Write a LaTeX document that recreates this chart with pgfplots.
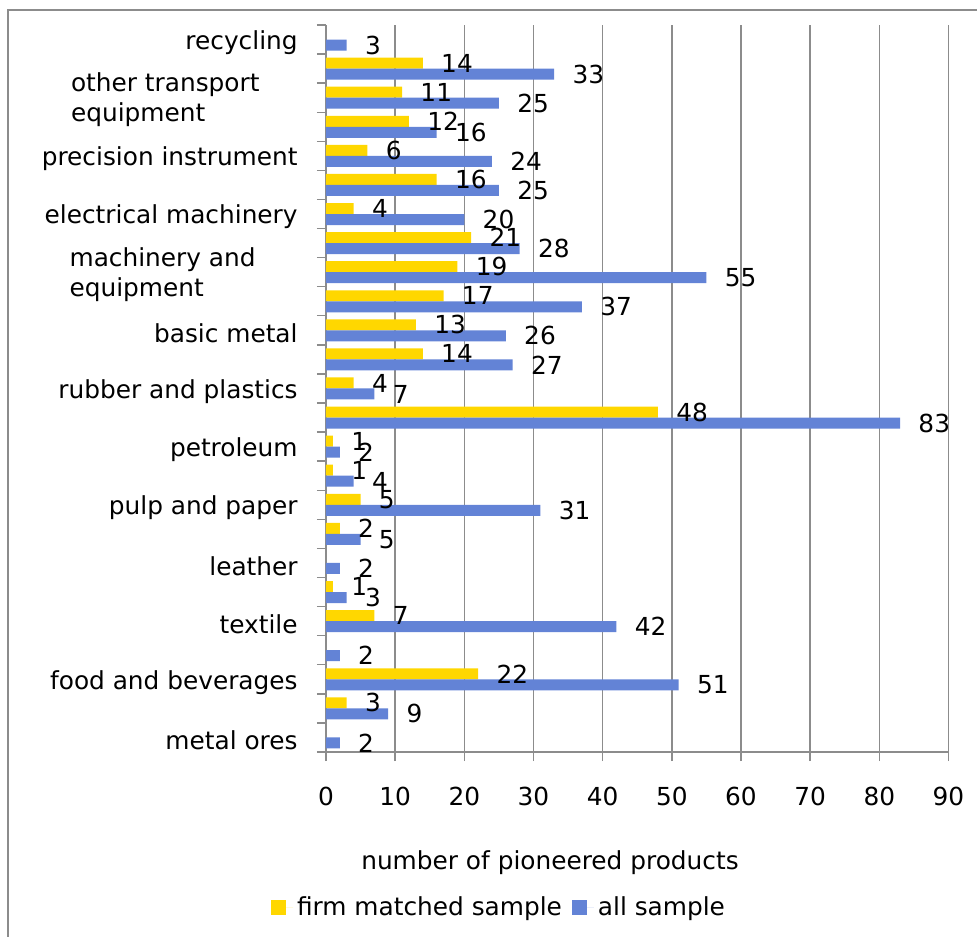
\documentclass[border=0pt]{standalone}
\usepackage{fontspec}
\setmainfont{DejaVu Sans}
\usepackage{pgfplots}
\pgfplotsset{compat=1.18}
\definecolor{ybar}{RGB}{255,215,0}
\definecolor{bbar}{RGB}{99,131,214}
\definecolor{gridc}{RGB}{140,140,140}
\begin{document}
\fontsize{12.4}{15}\selectfont
\begin{tikzpicture}
\begin{axis}[
  at={(0,0)}, anchor=south west,
  scale only axis, width=311.25pt, height=363.5pt,
  xmin=0, xmax=90, ymin=-0.5, ymax=24.5,
  xtick={0,10,...,90},
  ytick={-0.5,0.5,...,24.5},
  y tick label as interval,
  yticklabels={metal ores,,food and beverages,,textile,,leather,,pulp and paper,,petroleum,,rubber and plastics,,basic metal,,{\begin{tabular}{@{}l@{}}machinery and\\equipment\end{tabular}\hspace*{21pt}},,electrical machinery,,precision instrument,,{\begin{tabular}{@{}l@{}}other transport\\equipment\end{tabular}\hspace*{19pt}},,recycling},
  axis x line*=bottom, axis y line*=left,
  axis line style={gridc, line width=0.7pt, -},
  tick style={gridc, line width=0.7pt},
  tick align=outside, major tick length=4.5pt,
  xmajorgrids, grid style={gridc, line width=0.7pt},
  /pgf/number format/assume math mode=true,
  ticklabel style={font=\fontsize{12.4}{15}\selectfont},
  xticklabel style={inner sep=0pt, yshift=-13pt},
  yticklabel style={inner sep=0pt, xshift=-9.5pt, yshift=-1.5pt},
  xlabel={number of pioneered products},
  xlabel style={at={(axis description cs:0.3598,-0.1525)}, anchor=center, font=\fontsize{12.4}{15}\selectfont},
  xbar, bar width=5.5pt,
  nodes near coords,
  every node near coord/.append style={font=\fontsize{12.4}{15}\selectfont, inner sep=0pt, xshift=9pt, black},
  legend columns=2,
  legend style={at={(axis description cs:0.2795,-0.2145)}, anchor=center, draw=none, fill=none,
    font=\fontsize{12.4}{15}\selectfont,
    /tikz/every even column/.append style={column sep=3pt}},
  legend image code/.code={\fill[#1] (0pt,-3.75pt) rectangle (7.5pt,3.75pt); \path (0pt,0pt) -- (11pt,0pt);},
]
\addplot[fill=ybar, draw=none, bar shift=2.75pt] coordinates {
(3,1) (22,2) (7,4) (1,5) (2,7) (5,8) (1,9) (1,10) (48,11) (4,12) (14,13) (13,14) (17,15) (19,16) (21,17) (4,18) (16,19) (6,20) (12,21) (11,22) (14,23)};
\addlegendentry{firm matched sample}
\addplot[fill=bbar, draw=none, bar shift=-2.75pt] coordinates {
(2,0) (9,1) (51,2) (2,3) (42,4) (3,5) (2,6) (5,7) (31,8) (4,9) (2,10) (83,11) (7,12) (27,13) (26,14) (37,15) (55,16) (28,17) (20,18) (25,19) (24,20) (16,21) (25,22) (33,23) (3,24)};
\addlegendentry{all sample}
\end{axis}
\draw[gridc, line width=0.8pt] (-159pt,-95pt) -- (-159pt,371pt) -- (330pt,371pt);
\pgfresetboundingbox
\useasboundingbox (-163pt,-92pt) rectangle (325.5pt,376pt);
\end{tikzpicture}
\end{document}
